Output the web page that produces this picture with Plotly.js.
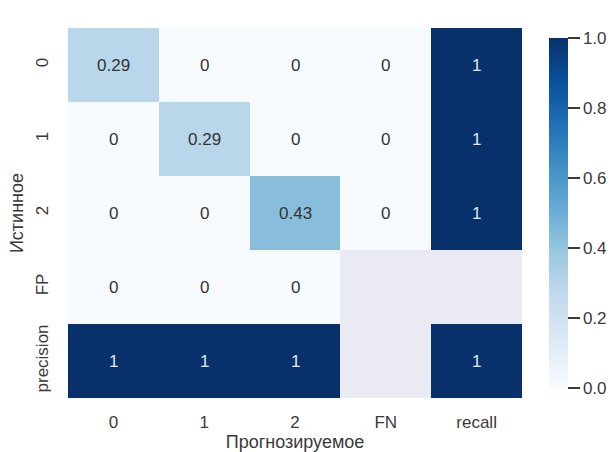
<!DOCTYPE html>
<html>
<head>
<meta charset="utf-8">
<script src="https://cdn.plot.ly/plotly-3.0.1.min.js"></script>
<style>html,body{margin:0;padding:0;background:#fff;}#chart{width:613px;height:452px;}</style>
</head>
<body>
<div id="chart"></div>
<script>
// Confusion matrix with FP / FN margins and precision / recall
const predLabels = ['0', '1', '2', 'FN', 'recall'];
const trueLabels = ['0', '1', '2', 'FP', 'precision'];
const row0 = [0.29, 0, 0, 0, 1];
const row1 = [0, 0.29, 0, 0, 1];
const row2 = [0, 0, 0.43, 0, 1];
const rowFP = [0, 0, 0, null, null];
const rowPrecision = [1, 1, 1, null, 1];
const matrix = [row0, row1, row2, rowFP, rowPrecision];
const colorbarTicks = [0, 0.2, 0.4, 0.6, 0.8, 1.0];

// matplotlib "Blues"
const blues = [
  [0.0, '#f7fbff'], [0.125, '#deebf7'], [0.25, '#c6dbef'], [0.375, '#9ecae1'],
  [0.5, '#6baed6'], [0.625, '#4292c6'], [0.75, '#2171b5'], [0.875, '#08519c'],
  [1.0, '#08306b']
];

const family = '"Liberation Sans", Arial, sans-serif';
const font = {family: family, size: 17, color: '#3a3a3a'};

// cell value labels, light text on dark cells
const annotations = [];
matrix.forEach((row, i) => {
  row.forEach((v, j) => {
    if (v === null) return;
    annotations.push({
      x: predLabels[j], y: trueLabels[i], xref: 'x', yref: 'y',
      text: String(v), showarrow: false,
      font: {family: family, size: 17, color: v > 0.6 ? '#dfe8f3' : '#333333'}
    });
  });
});

const trace = {
  type: 'heatmap',
  x: predLabels,
  y: trueLabels,
  z: matrix,
  zmin: 0, zmax: 1,
  colorscale: blues,
  hoverongaps: false,
  colorbar: {
    x: 1.06, xanchor: 'left', xpad: 0,
    y: 0, yanchor: 'bottom', len: 1, lenmode: 'fraction',
    thickness: 19, outlinewidth: 0,
    ticks: 'outside', ticklen: 12, tickwidth: 1.2, tickcolor: '#3a3a3a',
    tickvals: colorbarTicks,
    tickformat: '.1f',
    tickfont: font
  }
};

const layout = {
  width: 613, height: 452,
  margin: {l: 68, r: 91, t: 28, b: 54, autoexpand: false},
  paper_bgcolor: '#ffffff',
  plot_bgcolor: '#eaeaf2',
  font: font,
  xaxis: {
    type: 'category', showgrid: false, zeroline: false, ticks: '',
    automargin: false,
    tickfont: font, ticklabelstandoff: 12,
    title: {text: 'Прогнозируемое', font: {family: family, size: 18, color: '#3a3a3a'}, standoff: 2}
  },
  yaxis: {
    type: 'category', autorange: 'reversed', showgrid: false, zeroline: false, ticks: '',
    automargin: false,
    tickangle: -90, tickfont: font, ticklabelstandoff: 16,
    title: {text: 'Истинное', font: {family: family, size: 18, color: '#3a3a3a'}, standoff: 4}
  },
  annotations: annotations
};

Plotly.newPlot('chart', [trace], layout, {displayModeBar: false, staticPlot: true});
</script>
</body>
</html>
